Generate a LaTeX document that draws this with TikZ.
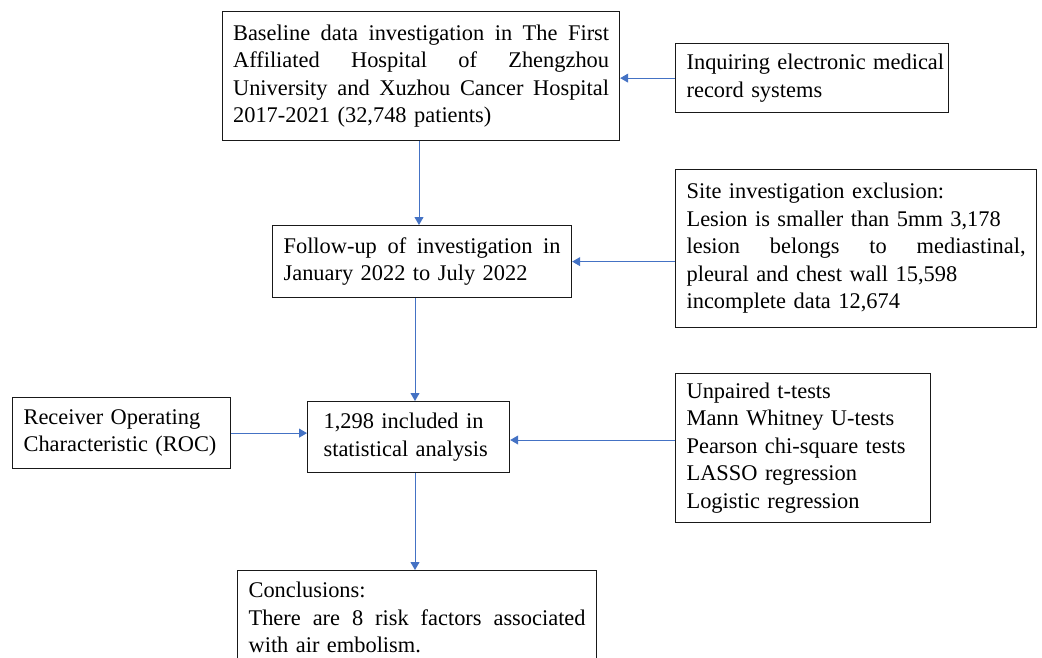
\documentclass[tikz,border=0pt]{standalone}
\usepackage{fontspec}
\setmainfont{Liberation Serif}
\usetikzlibrary{arrows.meta}
\definecolor{arr}{HTML}{4472C4}
\hbadness=10000
\hfuzz=100pt
\vfuzz=100pt
\newcommand\jl[2]{\hbox to #1pt{\spaceskip=0.25em plus 1fil\relax #2}}
\newcommand\nl[1]{\hbox{#1}}
\newcommand\stack[1]{\vbox{#1}}
\begin{document}
\begin{tikzpicture}[x=1pt,y=1pt,
  box/.style={draw=black!90, line width=1.2pt, inner ysep=0pt, anchor=north west,
    font=\fontsize{22.4pt}{27.5pt}\selectfont},
  conn/.style={draw=arr, line width=0.9pt, -{Triangle[length=8pt,width=9pt]}}]
\path[use as bounding box, clip] (0,0) rectangle (1042,-657);

\node[box, inner xsep=10.5pt, text width=376pt, minimum height=129pt] (base) at (222,-11)
  {\stack{\jl{376}{Baseline data investigation in The First}\jl{376}{Affiliated Hospital of Zhengzhou}\jl{376}{University and Xuzhou Cancer Hospital}\nl{2017-2021 (32,748 patients)}}};
\node[box, inner xsep=11pt, text width=251pt, minimum height=69pt] (inq) at (675,-43)
  {\stack{\nl{Inquiring electronic medical}\nl{record systems}}};
\node[box, inner xsep=11pt, text width=277pt, minimum height=72pt] (follow) at (272,-225)
  {\stack{\jl{277}{Follow-up of investigation in}\nl{January 2022 to July 2022}}};
\node[box, inner xsep=11pt, text width=339pt, minimum height=158pt] (site) at (675,-169)
  {\stack{\nl{Site investigation exclusion:}\nl{Lesion is smaller than 5mm 3,178}\jl{339}{lesion belongs to mediastinal,}\nl{pleural and chest wall 15,598}\nl{incomplete data 12,674}}};
\node[box, inner xsep=11pt, text width=196pt, minimum height=71pt] (roc) at (12,-397)
  {\stack{\nl{Receiver Operating}\nl{Characteristic (ROC)}}};
\node[box, inner xsep=16pt, text width=170pt, minimum height=71pt] (incl) at (307,-401)
  {\stack{\nl{1,298 included in}\nl{statistical analysis}}};
\node[box, inner xsep=11pt, text width=233pt, minimum height=149pt] (unp) at (675,-373)
  {\stack{\nl{Unpaired t-tests}\nl{Mann Whitney U-tests}\nl{Pearson chi-square tests}\nl{LASSO regression}\nl{Logistic regression}}};
\node[box, inner xsep=11pt, text width=337pt, inner ysep=11.4pt] (concl) at (237,-570)
  {\stack{\nl{Conclusions:}\jl{337}{There are 8 risk factors associated}\nl{with air embolism.}}};

\coordinate (xa) at (419,0);
\coordinate (xb) at (415,0);
\coordinate (yu) at (0,-440);
\draw[conn] (inq.west) -- (inq.west -| base.east);
\draw[conn] (base.south -| xa) -- (follow.north -| xa);
\draw[conn] (site.west |- follow.east) -- (follow.east);
\draw[conn] (follow.south -| xb) -- (incl.north -| xb);
\draw[conn] (roc.east) -- (roc.east -| incl.west);
\draw[conn] (unp.west |- yu) -- (incl.east |- yu);
\draw[conn] (incl.south -| xb) -- (concl.north -| xb);
\end{tikzpicture}
\end{document}
